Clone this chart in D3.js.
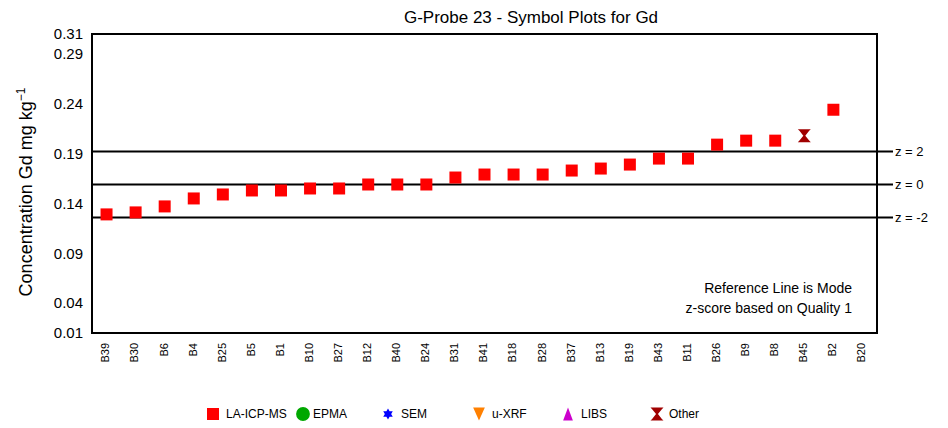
<!DOCTYPE html>
<html>
<head>
<meta charset="utf-8">
<script src="https://cdn.jsdelivr.net/npm/d3@7"></script>
<style>
  body { margin: 0; background: #fff; }
  svg { font-family: "Liberation Sans", Arial, sans-serif; }
</style>
</head>
<body>
<div id="chart"></div>
<script>
// labs in plotted order
var labs = ["B39", "B30", "B6", "B4", "B25", "B5", "B1", "B10", "B27", "B12", "B40", "B24",
    "B31", "B41", "B18", "B28", "B37", "B13", "B19", "B43", "B11", "B26", "B9", "B8", "B45", "B2", "B20"];
// Gd result per lab (null = not reported)
var values = [0.129, 0.131, 0.137, 0.145, 0.149, 0.153, 0.153, 0.155, 0.155, 0.159, 0.159, 0.159,
    0.166, 0.169, 0.169, 0.169, 0.173, 0.175, 0.179, 0.185, 0.185, 0.199, 0.203, 0.203, 0.208, 0.234, null];
// method per lab
var methods = ["LA-ICP-MS", "LA-ICP-MS", "LA-ICP-MS", "LA-ICP-MS", "LA-ICP-MS", "LA-ICP-MS", "LA-ICP-MS",
    "LA-ICP-MS", "LA-ICP-MS", "LA-ICP-MS", "LA-ICP-MS", "LA-ICP-MS", "LA-ICP-MS", "LA-ICP-MS", "LA-ICP-MS",
    "LA-ICP-MS", "LA-ICP-MS", "LA-ICP-MS", "LA-ICP-MS", "LA-ICP-MS", "LA-ICP-MS", "LA-ICP-MS", "LA-ICP-MS",
    "LA-ICP-MS", "Other", "LA-ICP-MS", "LA-ICP-MS"];
var yTicks = [0.01, 0.04, 0.09, 0.14, 0.19, 0.24, 0.29, 0.31];
var refLines = [
    { label: "z = 2", value: 0.192 },
    { label: "z = 0", value: 0.159 },
    { label: "z = -2", value: 0.126 }
];
var legendItems = ["LA-ICP-MS", "EPMA", "SEM", "u-XRF", "LIBS", "Other"];

var width = 948, height = 428;
var margin = { top: 34, right: 71, bottom: 95, left: 92 };
var plotW = width - margin.left - margin.right;
var plotH = height - margin.top - margin.bottom;

var colours = {
    "LA-ICP-MS": "#ff0000", "EPMA": "#00a800", "SEM": "#0000ff",
    "u-XRF": "#ff8000", "LIBS": "#cc00cc", "Other": "#a00000"
};

// custom symbol types, size = (box side)^2
var hourglass = {
    draw: function(ctx, size) {
        var r = Math.sqrt(size) / 2;
        ctx.moveTo(-r, -r);
        ctx.lineTo(r, -r);
        ctx.lineTo(r * 0.75, -r * 0.75);
        ctx.lineTo(r * 0.15, 0);
        ctx.lineTo(r * 0.75, r * 0.75);
        ctx.lineTo(r, r);
        ctx.lineTo(-r, r);
        ctx.lineTo(-r * 0.75, r * 0.75);
        ctx.lineTo(-r * 0.15, 0);
        ctx.lineTo(-r * 0.75, -r * 0.75);
        ctx.closePath();
    }
};
var triangleDown = {
    draw: function(ctx, size) {
        var r = Math.sqrt(size) / 2;
        ctx.moveTo(-r * 0.9, -r);
        ctx.lineTo(r * 0.9, -r);
        ctx.lineTo(0, r);
        ctx.closePath();
    }
};
var triangleUp = {
    draw: function(ctx, size) {
        var r = Math.sqrt(size) / 2;
        ctx.moveTo(-r * 0.75, r);
        ctx.lineTo(r * 0.75, r);
        ctx.lineTo(0, -r);
        ctx.closePath();
    }
};
var hexagram = {
    draw: function(ctx, size) {
        var r = Math.sqrt(size) / 2;
        var a = r * Math.sqrt(3) / 2;
        ctx.moveTo(0, -r);
        ctx.lineTo(a, r / 2);
        ctx.lineTo(-a, r / 2);
        ctx.closePath();
        ctx.moveTo(0, r);
        ctx.lineTo(-a, -r / 2);
        ctx.lineTo(a, -r / 2);
        ctx.closePath();
    }
};
var symbolFor = function(m) {
    if (m === "LA-ICP-MS") { return d3.symbol(d3.symbolSquare, 144); }
    if (m === "EPMA") { return d3.symbol(d3.symbolCircle, 150); }
    if (m === "SEM") { return d3.symbol(hexagram, 121); }
    if (m === "u-XRF") { return d3.symbol(triangleDown, 169); }
    if (m === "LIBS") { return d3.symbol(triangleUp, 169); }
    return d3.symbol(hourglass, 169);
};

var svg = d3.select("#chart").append("svg")
    .attr("width", width)
    .attr("height", height);

var x = d3.scaleBand().domain(labs).range([margin.left, margin.left + plotW]);
var y = d3.scaleLinear().domain([0.01, 0.31]).range([margin.top + plotH, margin.top]);

// title
svg.append("text")
    .attr("x", 531)
    .attr("y", 23)
    .attr("text-anchor", "middle")
    .style("font-size", "17px")
    .text("G-Probe 23 - Symbol Plots for Gd");

// y axis label
var ylab = svg.append("text")
    .attr("transform", "translate(32,192) rotate(-90)")
    .attr("text-anchor", "middle")
    .style("font-size", "18px");
ylab.append("tspan").text("Concentration Gd mg kg");
ylab.append("tspan").attr("dy", -7).style("font-size", "12px").text("\u22121");

// y tick labels
var yAxis = svg.append("g")
    .attr("transform", "translate(" + margin.left + ",0)")
    .call(d3.axisLeft(y).tickValues(yTicks).tickFormat(d3.format(".2f")).tickSize(0).tickPadding(9));
yAxis.select(".domain").remove();
yAxis.selectAll("text")
    .style("font-size", "15px")
    .style("font-family", "Liberation Sans, Arial, sans-serif")
    .attr("fill", "#000");

// x tick labels
var xAxis = svg.append("g")
    .attr("transform", "translate(0," + (margin.top + plotH) + ")")
    .call(d3.axisBottom(x).tickSize(0));
xAxis.select(".domain").remove();
xAxis.selectAll("text")
    .attr("transform", "rotate(-90)")
    .attr("x", -10)
    .attr("y", -1)
    .attr("dy", "0.35em")
    .attr("text-anchor", "end")
    .style("font-size", "11px")
    .style("font-family", "Liberation Sans, Arial, sans-serif")
    .attr("fill", "#000");

// reference lines
var refs = svg.append("g");
refs.selectAll("line")
    .data(refLines)
    .enter().append("line")
    .attr("x1", margin.left)
    .attr("x2", margin.left + plotW + 16)
    .attr("y1", function(d) { return y(d.value); })
    .attr("y2", function(d) { return y(d.value); })
    .attr("stroke", "#000")
    .attr("stroke-width", 2);
refs.selectAll("text")
    .data(refLines)
    .enter().append("text")
    .attr("x", margin.left + plotW + 18)
    .attr("y", function(d) { return y(d.value); })
    .attr("dy", "0.35em")
    .style("font-size", "13px")
    .text(function(d) { return d.label; });

// plot frame
svg.append("rect")
    .attr("x", margin.left)
    .attr("y", margin.top)
    .attr("width", plotW)
    .attr("height", plotH)
    .attr("fill", "none")
    .attr("stroke", "#000")
    .attr("stroke-width", 2);

// points
var points = labs.map(function(d, i) {
    return { lab: d, value: values[i], method: methods[i] };
}).filter(function(d) { return d.value !== null; });

svg.append("g").selectAll("path")
    .data(points)
    .enter().append("path")
    .attr("transform", function(d) {
        return "translate(" + (x(d.lab) + x.bandwidth() / 2) + "," + y(d.value) + ")";
    })
    .attr("d", function(d) { return symbolFor(d.method)(); })
    .attr("fill", function(d) { return colours[d.method]; });

// notes
var notes = svg.append("g").attr("text-anchor", "end").style("font-size", "14px");
notes.append("text").attr("x", 852).attr("y", 293).text("Reference Line is Mode");
notes.append("text").attr("x", 852).attr("y", 313).text("z-score based on Quality 1");

// legend
var legendX = [213, 303, 388, 479, 568, 657];
var legend = svg.append("g").selectAll("g")
    .data(legendItems)
    .enter().append("g")
    .attr("transform", function(d, i) { return "translate(" + legendX[i] + ",414)"; });
legend.append("path")
    .attr("d", function(d) { return symbolFor(d)(); })
    .attr("fill", function(d) { return colours[d]; });
legend.append("text")
    .attr("x", function(d) { return d === "EPMA" ? 10 : (d === "Other" ? 12 : 13); })
    .attr("dy", "0.35em")
    .style("font-size", "12px")
    .text(function(d) { return d; });
</script>
</body>
</html>
